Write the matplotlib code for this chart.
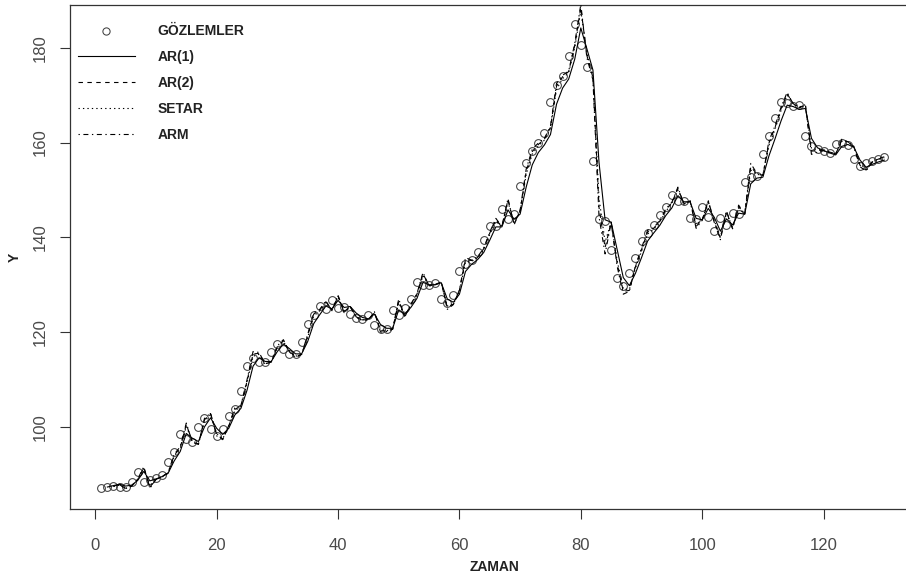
import matplotlib
matplotlib.use("Agg")
import matplotlib.pyplot as plt
from matplotlib.lines import Line2D
from matplotlib.font_manager import FontProperties

# ---------------- data ----------------
t_obs = list(range(1, 131))
obs = [87.0, 87.3, 87.6, 87.2, 87.4, 88.4, 90.4, 88.3, 88.7, 89.2,
       89.9, 92.6, 94.6, 98.5, 97.4, 96.7, 99.9, 101.8, 99.5, 98.1,
       99.5, 102.3, 103.7, 107.6, 112.8, 114.6, 113.7, 113.7, 115.8, 117.4,
       116.4, 115.3, 115.3, 117.9, 121.8, 123.7, 125.5, 124.9, 126.7, 125.1,
       125.3, 123.9, 123.0, 122.7, 123.7, 121.4, 120.6, 120.6, 124.6, 123.7,
       125.1, 127.0, 130.5, 130.0, 130.0, 130.4, 126.9, 126.2, 127.9, 132.8,
       134.3, 135.3, 136.8, 139.5, 142.3, 142.3, 146.0, 143.9, 145.0, 150.9,
       155.7, 158.3, 159.9, 162.1, 168.6, 172.1, 174.0, 178.3, 185.1, 180.6,
       176.0, 156.2, 143.9, 143.4, 137.4, 131.5, 129.7, 132.4, 135.7, 139.3,
       141.0, 142.6, 144.7, 146.4, 149.0, 147.7, 147.7, 144.1, 143.8, 146.3,
       144.3, 141.3, 144.0, 142.6, 145.2, 145.0, 151.6, 152.8, 153.0, 157.6,
       161.3, 165.2, 168.6, 168.3, 167.7, 167.9, 161.4, 159.3, 158.7, 158.2,
       157.8, 159.6, 160.0, 159.4, 156.6, 155.0, 155.6, 156.2, 156.6, 156.9]

t_ar1 = list(range(2, 131))
ar1 = [87.3, 87.6, 87.9, 87.5, 87.7, 88.7, 90.6, 88.6, 89.0, 89.5,
       90.2, 92.8, 94.8, 98.6, 97.6, 96.9, 100.0, 101.9, 99.7, 98.4,
       99.7, 102.5, 103.9, 107.7, 112.8, 114.6, 113.8, 113.8, 115.9, 117.5,
       116.5, 115.4, 115.4, 118.0, 121.8, 123.7, 125.5, 124.9, 126.7, 125.2,
       125.4, 124.0, 123.1, 122.8, 123.8, 121.6, 120.8, 120.8, 124.7, 123.8,
       125.2, 127.1, 130.5, 130.0, 130.0, 130.4, 127.0, 126.3, 128.0, 132.8,
       134.3, 135.3, 136.8, 139.4, 142.2, 142.2, 145.8, 143.8, 144.9, 150.6,
       155.3, 157.9, 159.5, 161.7, 168.1, 171.5, 173.4, 177.6, 184.2, 179.8,
       175.3, 155.8, 143.7, 143.2, 137.3, 131.5, 129.8, 132.4, 135.7, 139.2,
       140.9, 142.5, 144.6, 146.2, 148.8, 147.5, 147.5, 144.0, 143.7, 146.1,
       144.2, 141.3, 143.9, 142.6, 145.1, 144.9, 151.3, 152.5, 152.7, 157.2,
       160.8, 164.6, 167.9, 167.6, 167.0, 167.2, 160.9, 158.9, 158.3, 157.8,
       157.4, 159.2, 159.6, 159.0, 156.3, 154.8, 155.4, 155.9, 156.3]

t_fit2 = list(range(3, 131))
ar2 = [87.5, 87.8, 87.0, 87.5, 88.9, 91.4, 87.3, 88.9, 89.5, 90.3,
       94.0, 95.6, 100.5, 96.9, 96.4, 101.5, 102.8, 98.4, 97.4, 100.2,
       103.7, 104.4, 109.6, 115.4, 115.5, 113.3, 113.7, 116.9, 118.2, 115.9,
       114.8, 115.3, 119.2, 123.8, 124.7, 126.4, 124.6, 127.6, 124.3, 125.4,
       123.2, 122.6, 122.6, 124.2, 120.3, 120.2, 120.6, 126.6, 123.3, 125.8,
       128.0, 132.3, 129.8, 130.0, 130.6, 125.2, 125.9, 128.8, 135.3, 135.1,
       135.8, 137.6, 140.9, 143.7, 142.3, 147.9, 142.9, 145.6, 153.9, 158.1,
       159.6, 160.7, 163.2, 171.9, 173.9, 175.0, 180.5, 188.5, 178.4, 173.7,
       146.3, 137.8, 143.2, 134.4, 128.6, 128.8, 133.8, 137.4, 141.1, 141.9,
       143.4, 145.8, 147.3, 150.3, 147.1, 147.7, 142.3, 143.7, 147.6, 143.3,
       139.8, 145.4, 141.9, 146.5, 144.9, 154.9, 153.4, 153.1, 159.9, 163.2,
       167.2, 170.3, 168.2, 167.4, 168.0, 158.2, 158.3, 158.4, 158.0, 157.6,
       160.5, 160.2, 159.1, 155.2, 154.2, 155.9, 156.5, 156.9]
setar = [87.4, 87.7, 87.0, 87.5, 88.8, 91.2, 87.5, 88.9, 89.4, 90.2,
         93.7, 95.4, 100.1, 97.0, 96.4, 101.2, 102.6, 98.6, 97.5, 100.1,
         103.4, 104.3, 109.2, 114.9, 115.3, 113.3, 113.7, 116.6, 118.0, 116.0,
         114.9, 115.3, 118.9, 123.4, 124.5, 126.2, 124.7, 127.4, 124.5, 125.4,
         123.3, 122.6, 122.6, 124.1, 120.5, 120.3, 120.6, 126.2, 123.3, 125.7,
         127.8, 131.9, 129.8, 130.0, 130.6, 125.5, 125.9, 128.6, 134.8, 134.9,
         135.7, 137.4, 140.6, 143.4, 142.3, 147.5, 143.1, 145.4, 153.3, 157.6,
         159.3, 160.5, 163.0, 171.2, 173.5, 174.8, 180.0, 187.8, 178.8, 174.2,
         148.3, 139.0, 143.2, 135.0, 129.1, 129.0, 133.5, 137.0, 140.7, 141.7,
         143.2, 145.5, 147.1, 150.0, 147.2, 147.7, 142.7, 143.7, 147.3, 143.5,
         140.1, 145.1, 142.0, 146.2, 144.9, 154.2, 153.3, 153.1, 159.4, 162.8,
         166.8, 170.0, 168.2, 167.5, 168.0, 158.8, 158.5, 158.5, 158.0, 157.6,
         160.3, 160.2, 159.2, 155.5, 154.4, 155.8, 156.4, 156.8]
arm = [87.5, 87.8, 87.0, 87.5, 89.0, 91.6, 87.0, 88.9, 89.5, 90.3,
       94.2, 95.8, 100.8, 96.7, 96.3, 101.8, 102.9, 98.1, 97.3, 100.3,
       104.0, 104.5, 109.9, 115.9, 115.7, 113.2, 113.7, 117.1, 118.4, 115.8,
       114.6, 115.3, 119.5, 124.1, 124.8, 126.6, 124.5, 127.8, 124.1, 125.4,
       123.1, 122.5, 122.5, 124.3, 120.0, 120.1, 120.6, 127.0, 123.2, 125.9,
       128.1, 132.6, 129.7, 130.0, 130.6, 124.8, 125.8, 128.9, 135.7, 135.2,
       135.9, 137.7, 141.1, 144.0, 142.3, 148.2, 142.6, 145.7, 154.4, 158.6,
       159.9, 160.9, 163.4, 172.5, 174.2, 175.1, 180.9, 189.2, 177.9, 173.2,
       144.3, 136.5, 143.1, 133.8, 128.0, 128.6, 134.0, 137.7, 141.5, 142.0,
       143.6, 146.0, 147.4, 150.6, 146.9, 147.7, 141.9, 143.6, 147.8, 143.1,
       139.5, 145.6, 141.8, 146.8, 144.9, 155.6, 153.5, 153.1, 160.4, 163.5,
       167.5, 170.6, 168.1, 167.3, 168.0, 157.5, 158.0, 158.3, 157.9, 157.6,
       160.7, 160.2, 159.0, 154.9, 154.0, 155.9, 156.6, 157.0]

x_ticks = [0, 20, 40, 60, 80, 100, 120]
y_ticks = [100, 120, 140, 160, 180]
legend_labels = ["GÖZLEMLER", "AR(1)", "AR(2)", "SETAR", "ARM"]

# ---------------- figure ----------------
W, H = 906, 580
fig = plt.figure(figsize=(W / 100, H / 100), dpi=100)
ax_l, ax_r, ax_t, ax_b = 70.0, 915.6, 4.7, 509.0
ax = fig.add_axes([ax_l / W, 1 - ax_b / H, (ax_r - ax_l) / W, (ax_b - ax_t) / H])

fam = ["Liberation Sans Narrow", "Liberation Sans", "DejaVu Sans"]
tick_fp = FontProperties(family=fam, size=12)
bold_fp = FontProperties(family=fam, size=10, weight="bold")

LW = 0.8
ax.plot(t_obs, obs, linestyle="none", marker="o", markersize=5.6,
        markerfacecolor="none", markeredgecolor="#404040", markeredgewidth=0.75, zorder=2)
ax.plot(t_ar1, ar1, color="black", lw=LW, linestyle="-", zorder=3)
ax.plot(t_fit2, ar2, color="black", lw=LW, dashes=(4, 4), zorder=3)
ax.plot(t_fit2, setar, color="black", lw=LW, dashes=(1.2, 2.8), zorder=3)
ax.plot(t_fit2, arm, color="black", lw=LW, dashes=(1.2, 3.2, 4.5, 3.2), zorder=3)

ax.set_xlim(-4.16, 135.16)
ax.set_ylim(82.66, 189.1)
ax.set_xticks(x_ticks)
ax.set_yticks(y_ticks)
ax.tick_params(axis="both", direction="out", length=7, width=0.8, color="#333333",
               labelcolor="#4a4a4a")
ax.tick_params(axis="x", pad=14)
ax.tick_params(axis="y", pad=9)
for lab in ax.get_xticklabels():
    lab.set_fontproperties(tick_fp)
for lab in ax.get_yticklabels():
    lab.set_fontproperties(tick_fp)
    lab.set_rotation(90)
    lab.set_va("center")
for s in ax.spines.values():
    s.set_linewidth(0.9)
    s.set_color("#333333")

fig.text(494 / W, 1 - 567 / H, "ZAMAN", ha="center", va="center",
         fontproperties=bold_fp, color="#222222")
fig.text(15 / W, 1 - 257 / H, "Y", ha="center", va="center", rotation=90,
         fontproperties=bold_fp, color="#222222")

handles = [
    Line2D([], [], linestyle="none", marker="o", markersize=5.2, markerfacecolor="none",
           markeredgecolor="#404040", markeredgewidth=0.75),
    Line2D([], [], color="black", lw=LW, linestyle="-"),
    Line2D([], [], color="black", lw=LW, dashes=(4, 4)),
    Line2D([], [], color="black", lw=LW, dashes=(1.2, 2.8)),
    Line2D([], [], color="black", lw=LW, dashes=(1.2, 3.2, 4.5, 3.2)),
]
axw = ax_r - ax_l
axh = ax_b - ax_t
leg = ax.legend(handles, legend_labels, loc="upper left",
                bbox_to_anchor=((78 - ax_l) / axw, 1 - 19.7 / axh),
                borderaxespad=0, borderpad=0, frameon=False, prop=bold_fp,
                handlelength=4.1, handletextpad=1.6, labelspacing=0.86, numpoints=1)
for txt in leg.get_texts():
    txt.set_color("#222222")

fig.savefig("out.png", dpi=100)
